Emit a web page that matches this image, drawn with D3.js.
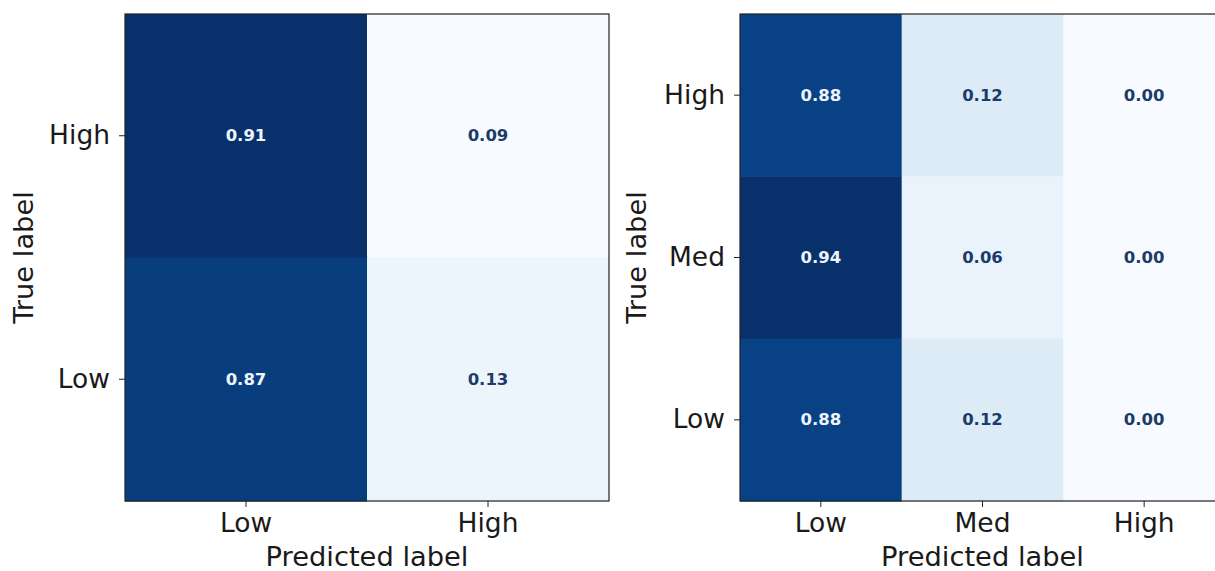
<!DOCTYPE html>
<html>
<head>
<meta charset="utf-8">
<script src="https://cdn.jsdelivr.net/npm/d3@7"></script>
<style>
  html, body { margin: 0; padding: 0; background: #ffffff; }
  svg { display: block; overflow: hidden; }
  text { font-family: "DejaVu Sans", sans-serif; }
</style>
</head>
<body>
<svg id="chart" width="1215" height="571"></svg>
<script>
// Binary model: predicted columns and true rows (top to bottom)
const binaryPredicted = ["Low", "High"];
const binaryTrue = ["High", "Low"];
const binaryValues = [
  [0.91, 0.09],
  [0.87, 0.13]
];

// Three-class model
const tripletPredicted = ["Low", "Med", "High"];
const tripletTrue = ["High", "Med", "Low"];
const tripletValues = [
  [0.88, 0.12, 0.00],
  [0.94, 0.06, 0.00],
  [0.88, 0.12, 0.00]
];

// Sequential blue ramp (ColorBrewer Blues stops, linearly blended)
const bluesStops = ["#f7fbff", "#deebf7", "#c6dbef", "#9ecae1", "#6baed6",
                    "#4292c6", "#2171b5", "#08519c", "#08306b"];

const svg = d3.select("#chart");

function drawMatrix(opts) {
  const { left, top, width, height, predicted, truth, values, labelX } = opts;
  const flat = values.flat();
  const vmin = d3.min(flat), vmax = d3.max(flat);

  const ramp = d3.scaleLinear()
    .domain(d3.range(bluesStops.length).map(i => i / (bluesStops.length - 1)))
    .range(bluesStops)
    .interpolate(d3.interpolateRgb);
  const norm = d3.scaleLinear().domain([vmin, vmax]).range([0, 1]);
  const color = v => ramp(norm(v));
  const threshold = (vmin + vmax) / 2;

  const x = d3.scaleBand().domain(predicted).range([0, width]);
  const y = d3.scaleBand().domain(truth).range([0, height]);

  const g = svg.append("g").attr("transform", `translate(${left},${top})`);

  const cells = [];
  truth.forEach((r, i) => predicted.forEach((c, j) =>
    cells.push({ row: r, col: c, v: values[i][j] })));

  g.selectAll("rect.cell").data(cells).join("rect")
    .attr("class", "cell")
    .attr("x", d => x(d.col))
    .attr("y", d => y(d.row))
    .attr("width", x.bandwidth() + 0.5)
    .attr("height", y.bandwidth() + 0.5)
    .attr("fill", d => color(d.v));

  g.selectAll("text.val").data(cells).join("text")
    .attr("class", "val")
    .attr("x", d => x(d.col) + x.bandwidth() / 2)
    .attr("y", d => y(d.row) + y.bandwidth() / 2)
    .attr("text-anchor", "middle")
    .attr("dominant-baseline", "central")
    .attr("font-size", 16.5)
    .attr("font-weight", "bold")
    .attr("fill", d => d.v < threshold ? "#1c3b6a" : "#eef4fb")
    .text(d => d3.format(".2f")(d.v));

  // Frame
  g.append("rect")
    .attr("x", 0).attr("y", 0)
    .attr("width", width).attr("height", height)
    .attr("fill", "none")
    .attr("stroke", "#222")
    .attr("stroke-width", 1.2);

  const xAxis = g.append("g")
    .attr("transform", `translate(0,${height})`)
    .call(d3.axisBottom(x).tickSize(6).tickPadding(6));
  const yAxis = g.append("g")
    .call(d3.axisLeft(y).tickSize(6).tickPadding(9));

  [xAxis, yAxis].forEach(a => {
    a.select(".domain").remove();
    a.selectAll(".tick line").attr("stroke", "#222").attr("stroke-width", 1);
    a.selectAll(".tick text")
      .attr("font-size", 26.5)
      .attr("fill", "#1a1a1a")
      .attr("font-family", "DejaVu Sans, sans-serif");
  });

  g.append("text")
    .attr("x", width / 2)
    .attr("y", height + 65)
    .attr("text-anchor", "middle")
    .attr("font-size", 27.3)
    .attr("fill", "#1a1a1a")
    .text("Predicted label");

  g.append("text")
    .attr("transform", `translate(${labelX},${height / 2}) rotate(-90)`)
    .attr("text-anchor", "middle")
    .attr("font-size", 27.3)
    .attr("fill", "#1a1a1a")
    .text("True label");
}

drawMatrix({
  left: 125, top: 14, width: 484, height: 487,
  predicted: binaryPredicted, truth: binaryTrue, values: binaryValues,
  labelX: -92
});

drawMatrix({
  left: 740, top: 14, width: 485, height: 487,
  predicted: tripletPredicted, truth: tripletTrue, values: tripletValues,
  labelX: -94
});
</script>
</body>
</html>
